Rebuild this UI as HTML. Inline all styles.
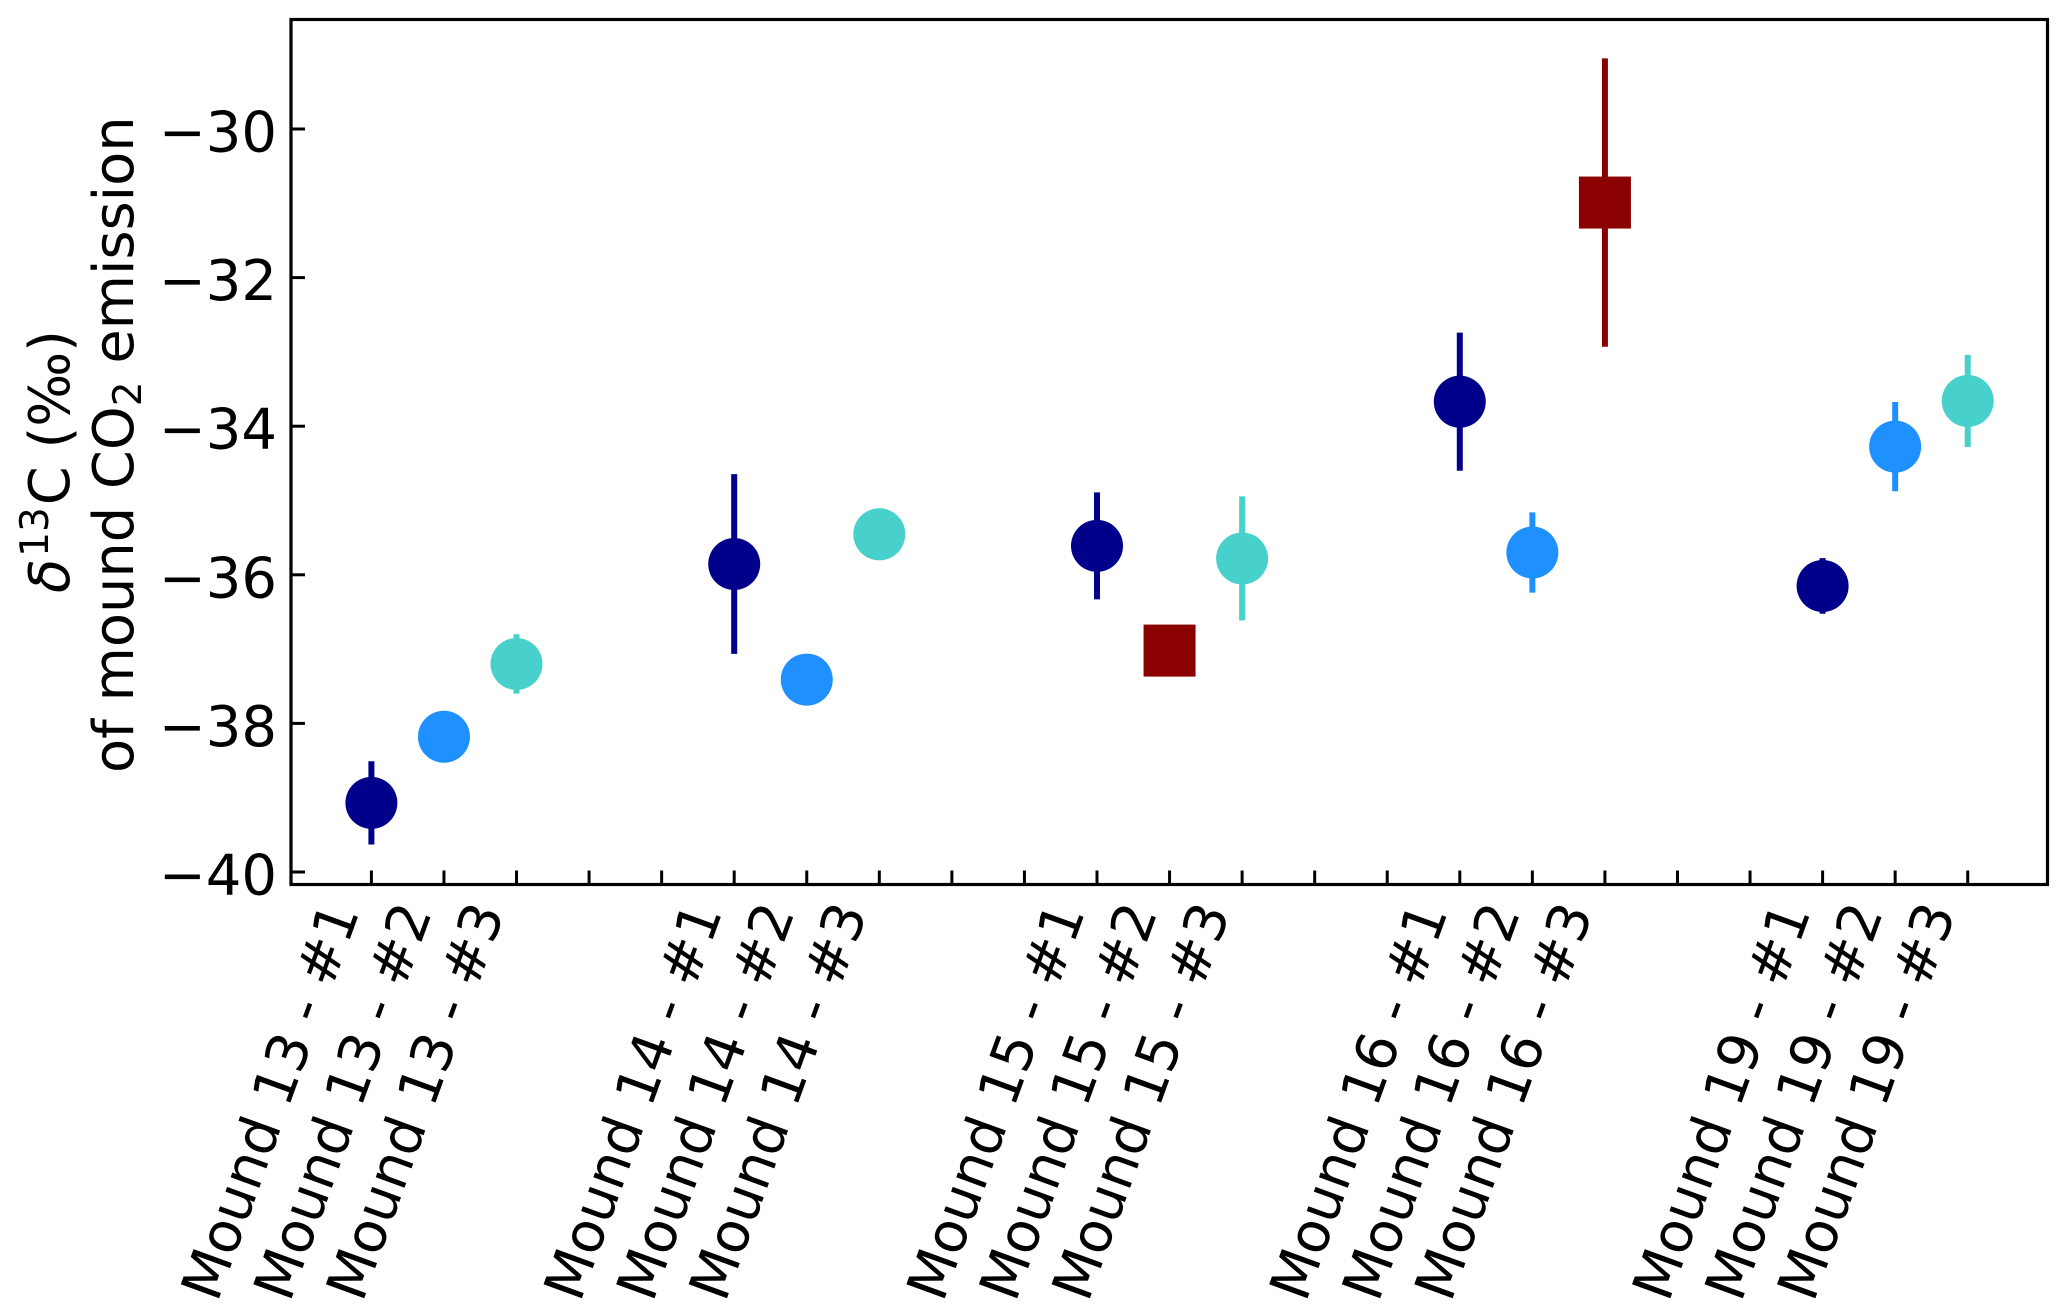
<!DOCTYPE html>
<html lang="en">
<head>
<meta charset="utf-8">
<title>δ13C of mound CO2 emission</title>
<style>
  html, body { margin: 0; padding: 0; background: #ffffff; }
  svg { display: block; }
  text { font-family: "DejaVu Sans", "Liberation Sans", sans-serif; fill: #000000; }
</style>
</head>
<body>
<svg id="chart" xmlns="http://www.w3.org/2000/svg" width="2067" height="1315" viewBox="0 0 2067 1315">
  <rect x="0" y="0" width="2067" height="1315" fill="#ffffff"/>
  <g id="marks"></g>
  <g id="ticks"></g>
  <rect x="291" y="19.5" width="1756.5" height="865" fill="none" stroke="#000000" stroke-width="3.2"/>
  <text transform="translate(69 593) rotate(-90)" font-size="55.8"><tspan font-style="italic">δ</tspan><tspan font-size="39" dy="-21" dx="2">13</tspan><tspan dy="21" dx="2">C (‰)</tspan></text>
  <text transform="translate(133 773) rotate(-90)" font-size="55.8">of mound CO<tspan font-size="39" dy="8">2</tspan><tspan dy="-8"> emission</tspan></text>
</svg>
<script>
const categories = [
  "Mound 13 - #1", "Mound 13 - #2", "Mound 13 - #3", "", "",
  "Mound 14 - #1", "Mound 14 - #2", "Mound 14 - #3", "", "",
  "Mound 15 - #1", "Mound 15 - #2", "Mound 15 - #3", "", "",
  "Mound 16 - #1", "Mound 16 - #2", "Mound 16 - #3", "", "",
  "Mound 19 - #1", "Mound 19 - #2", "Mound 19 - #3"
];
const values = [
  -39.07, -38.18, -37.20, null, null,
  -35.855, -37.41, -35.455, null, null,
  -35.61, -37.02, -35.78, null, null,
  -33.67, -35.70, -30.99, null, null,
  -36.15, -34.275, -33.66
];
const errors = [
  0.56, 0.15, 0.40, null, null,
  1.21, 0.15, 0.15, null, null,
  0.72, 0.15, 0.835, null, null,
  0.93, 0.54, 1.94, null, null,
  0.375, 0.60, 0.62
];
const pointColors = [
  "#00008b", "#1e90ff", "#48d1cc", null, null,
  "#00008b", "#1e90ff", "#48d1cc", null, null,
  "#00008b", "#8b0000", "#48d1cc", null, null,
  "#00008b", "#1e90ff", "#8b0000", null, null,
  "#00008b", "#1e90ff", "#48d1cc"
];
const pointShapes = [
  "circle", "circle", "circle", null, null,
  "circle", "circle", "circle", null, null,
  "circle", "square", "circle", null, null,
  "circle", "circle", "square", null, null,
  "circle", "circle", "circle"
];
const yTickValues = [-30, -32, -34, -36, -38, -40];

const SVG_NS = "http://www.w3.org/2000/svg";
const marks = document.getElementById("marks");
const ticks = document.getElementById("ticks");
const chart = document.getElementById("chart");

function xScale(i) { return 371.4 + i * 72.56; }
function yScale(v) { return 129 + (-30 - v) * 74.3; }

const MARKER = 52;
const PLOT_BOTTOM = 884.5;
const PLOT_LEFT = 291;
const TICK_LEN = 14;

categories.forEach(function (label, i) {
  const x = xScale(i);

  const tick = document.createElementNS(SVG_NS, "line");
  
  
  tick.setAttribute("x1", x);
  tick.setAttribute("x2", x);
  tick.setAttribute("y1", PLOT_BOTTOM);
  tick.setAttribute("y2", PLOT_BOTTOM - TICK_LEN);
  tick.setAttribute("stroke", "#000000");
  tick.setAttribute("stroke-width", "3");
  ticks.appendChild(tick);

  if (label) {
    const t = document.createElementNS(SVG_NS, "text");
    
    
    t.setAttribute("text-anchor", "end");
    t.setAttribute("font-size", "56");
    t.setAttribute("transform", "translate(" + (x - 11.7) + " 912) rotate(-70)");
    t.textContent = label;
    chart.appendChild(t);
  }

  if (values[i] === null) return;

  const v = values[i];
  const e = errors[i];
  const color = pointColors[i];

  const bar = document.createElementNS(SVG_NS, "line");
  
  
  bar.setAttribute("x1", x);
  bar.setAttribute("x2", x);
  bar.setAttribute("y1", yScale(v + e));
  bar.setAttribute("y2", yScale(v - e));
  bar.setAttribute("stroke", color);
  bar.setAttribute("stroke-width", "6");
  marks.appendChild(bar);

  if (pointShapes[i] === "square") {
    const sq = document.createElementNS(SVG_NS, "rect");
    
    
    sq.setAttribute("x", x - MARKER / 2);
    sq.setAttribute("y", yScale(v) - MARKER / 2);
    sq.setAttribute("width", MARKER);
    sq.setAttribute("height", MARKER);
    sq.setAttribute("fill", color);
    marks.appendChild(sq);
  } else {
    const c = document.createElementNS(SVG_NS, "circle");
    
    
    c.setAttribute("cx", x);
    c.setAttribute("cy", yScale(v));
    c.setAttribute("r", MARKER / 2);
    c.setAttribute("fill", color);
    marks.appendChild(c);
  }
});

yTickValues.forEach(function (v) {
  const y = yScale(v);

  const tick = document.createElementNS(SVG_NS, "line");
  
  
  tick.setAttribute("x1", PLOT_LEFT);
  tick.setAttribute("x2", PLOT_LEFT + TICK_LEN);
  tick.setAttribute("y1", y);
  tick.setAttribute("y2", y);
  tick.setAttribute("stroke", "#000000");
  tick.setAttribute("stroke-width", "3");
  ticks.appendChild(tick);

  const t = document.createElementNS(SVG_NS, "text");
  
  
  t.setAttribute("text-anchor", "end");
  t.setAttribute("font-size", "56");
  t.setAttribute("x", 277);
  t.setAttribute("y", y + 22.5);
  t.textContent = "\u2212" + Math.abs(v);
  chart.appendChild(t);
});
</script>
</body>
</html>
